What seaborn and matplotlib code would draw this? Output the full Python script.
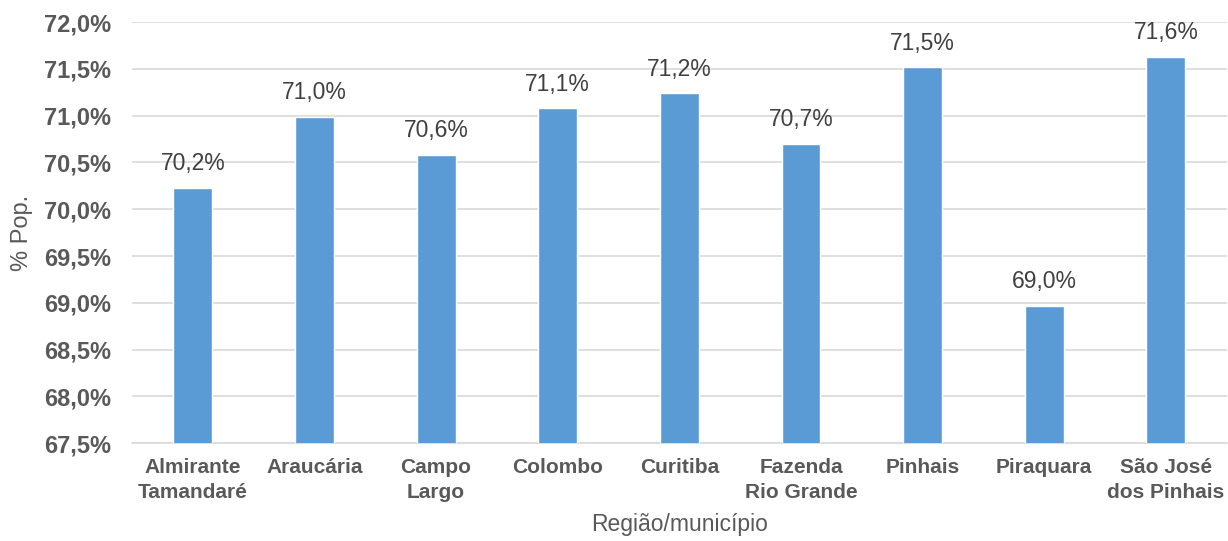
import matplotlib
matplotlib.use("Agg")
import matplotlib.pyplot as plt
import seaborn as sns
import pandas as pd

categories = ["Almirante\nTamandaré", "Araucária", "Campo\nLargo", "Colombo", "Curitiba",
              "Fazenda\nRio Grande", "Pinhais", "Piraquara", "São José\ndos Pinhais"]
values = [70.23, 70.99, 70.58, 71.08, 71.24, 70.70, 71.52, 68.97, 71.63]
yticks = [67.5, 68.0, 68.5, 69.0, 69.5, 70.0, 70.5, 71.0, 71.5, 72.0]


def pct(v):
    return f"{v:.1f}%".replace(".", ",")


def main():
    sns.set_theme(style="white")
    plt.rcParams["font.family"] = ["Liberation Sans", "DejaVu Sans"]

    df = pd.DataFrame({"Região": categories, "Valor": values})

    fig = plt.figure(figsize=(12.28, 5.41), dpi=100)
    ax = fig.add_axes([0.1075, 0.181, 0.8915, 0.778])

    sns.barplot(data=df, x="Região", y="Valor", color="#5B9BD5", saturation=1,
                width=0.32, ax=ax, zorder=3)

    ax.set_ylim(67.5, 72.0)
    ax.set_yticks(yticks)
    ax.set_yticklabels([pct(t) for t in yticks], fontsize=17, fontweight="bold", color="#595959")
    ax.grid(axis="y", color="#D9D9D9", linewidth=1.2, zorder=0)
    ax.set_axisbelow(True)
    for s in ["top", "right", "left"]:
        ax.spines[s].set_visible(False)
    ax.spines["bottom"].set_color("#D9D9D9")
    ax.spines["bottom"].set_linewidth(1.2)
    ax.tick_params(axis="y", length=0, pad=15)
    ax.tick_params(axis="x", length=0, pad=11)
    ax.set_xlim(-0.5, len(categories) - 0.5)

    for lbl in ax.get_xticklabels():
        lbl.set_fontsize(15)
        lbl.set_fontweight("bold")
        lbl.set_color("#595959")
        lbl.set_linespacing(1.4)

    for i, v in enumerate(values):
        ax.annotate(pct(v), (i, v), xytext=(0, 9), textcoords="offset points",
                    ha="center", va="bottom", fontsize=16.5, color="#404040")

    ax.set_xlabel("Região/município", fontsize=16.5, color="#595959", labelpad=8)
    ax.set_ylabel("% Pop.", fontsize=17, color="#595959", labelpad=8)

    fig.savefig("out.png", dpi=100)


if __name__ == "__main__":
    main()
